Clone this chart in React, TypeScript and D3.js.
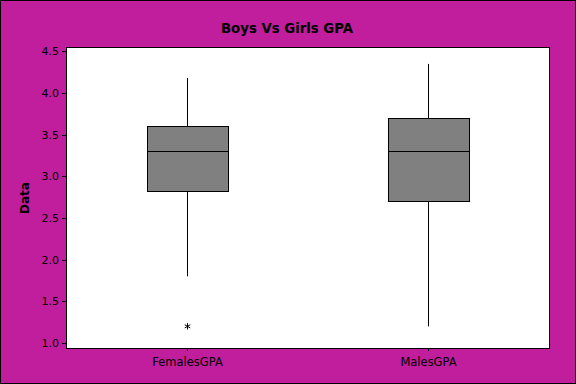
import React from "react";
import * as d3 from "d3";

const categories = ["FemalesGPA", "MalesGPA"];
const whiskerLow = [1.8, 1.2];
const q1 = [2.82, 2.7];
const median = [3.3, 3.3];
const q3 = [3.6, 3.7];
const whiskerHigh = [4.18, 4.35];
const outliers = [[1.2], []];
const yTicks = [1.0, 1.5, 2.0, 2.5, 3.0, 3.5, 4.0, 4.5];

const W = 576;
const H = 384;
const plot = { left: 66, right: 549, top: 47, bottom: 348 };
const BG = "#C01E9C";
const FONT = "'DejaVu Sans', Verdana, sans-serif";

export default function App() {
  const y = d3.scaleLinear().domain([0.94, 4.553]).range([plot.bottom, plot.top]);
  const x = d3.scalePoint<string>().domain(categories).range([plot.left, plot.right]).padding(0.5);
  const boxW = x.step() / 3;
  const star = d3.symbol(d3.symbolAsterisk, 28)() as string;

  return (
    <svg width={W} height={H} style={{ position: "absolute", left: 0, top: 0, display: "block" }}>
      <rect x={0.5} y={0.5} width={W - 1} height={H - 1} fill={BG} stroke="#000" strokeWidth={1} />
      <text x={287} y={33} textAnchor="middle" fontFamily={FONT} fontSize={14} fontWeight="bold" fill="#000" textLength={132} lengthAdjust="spacingAndGlyphs">
        Boys Vs Girls GPA
      </text>
      <rect
        x={plot.left + 0.5}
        y={plot.top + 0.5}
        width={plot.right - plot.left}
        height={plot.bottom - plot.top}
        fill="#fff"
        stroke="#000"
        strokeWidth={1}
      />
      {yTicks.map((t) => {
        const yy = Math.round(y(t)) + 0.5;
        return (
          <g key={t}>
            <line x1={plot.left - 4} x2={plot.left} y1={yy} y2={yy} stroke="#000" />
            <text
              x={plot.left - 7}
              y={yy}
              dy="0.35em"
              textAnchor="end"
              fontFamily={FONT}
              fontSize={11}
              fill="#000"
            >
              {t.toFixed(1)}
            </text>
          </g>
        );
      })}
      <text
        transform={`translate(29,198) rotate(-90)`}
        textAnchor="middle"
        fontFamily={FONT}
        fontSize={12}
        fontWeight="bold"
        fill="#000"
      >
        Data
      </text>
      {categories.map((c, i) => {
        const cx = Math.round(x(c)!) + 0.5;
        return (
          <g key={c}>
            <line x1={cx} x2={cx} y1={plot.bottom + 0.5} y2={plot.bottom + 3} stroke="#000" />
            <text x={cx} y={366} textAnchor="middle" fontFamily={FONT} fontSize={11.5} fill="#000">
              {c}
            </text>
            <line x1={cx} x2={cx} y1={y(whiskerHigh[i])} y2={y(q3[i])} stroke="#000" />
            <line x1={cx} x2={cx} y1={y(q1[i])} y2={y(whiskerLow[i])} stroke="#000" />
            <rect
              x={Math.round(cx - boxW / 2) + 0.5}
              y={Math.round(y(q3[i])) + 0.5}
              width={Math.round(boxW)}
              height={Math.round(y(q1[i]) - y(q3[i]))}
              fill="#808080"
              stroke="#000"
              strokeWidth={1}
            />
            <line
              x1={Math.round(cx - boxW / 2) + 0.5}
              x2={Math.round(cx - boxW / 2) + 0.5 + Math.round(boxW)}
              y1={Math.round(y(median[i])) + 0.5}
              y2={Math.round(y(median[i])) + 0.5}
              stroke="#000"
            />
            {outliers[i].map((o, j) => (
              <path key={j} d={star} transform={`translate(${cx},${y(o)})`} fill="none" stroke="#000" strokeWidth={1} />
            ))}
          </g>
        );
      })}
    </svg>
  );
}
